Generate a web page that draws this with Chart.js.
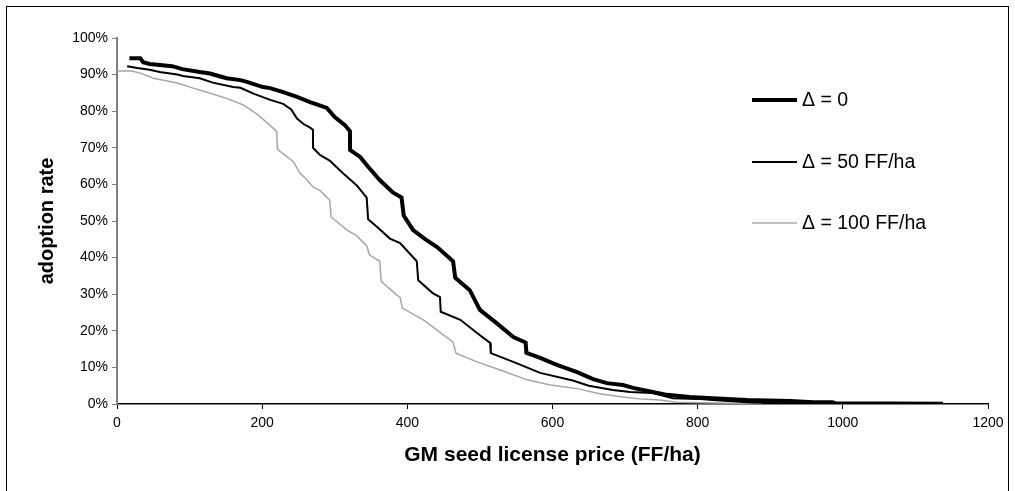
<!DOCTYPE html>
<html>
<head>
<meta charset="utf-8">
<script src="https://cdn.jsdelivr.net/npm/chart.js@4.4.1/dist/chart.umd.min.js"></script>
<style>
    html, body { margin: 0; padding: 0; background: #fff; overflow: hidden; }
    #frame { position: absolute; left: 6px; top: 6px; width: 1003px; height: 520px; border: 1px solid #000; box-sizing: border-box; }
    #sensorChart { position: absolute; left: 0; top: 0; }
</style>
</head>
<body>
<div id="frame"></div>
<canvas id="sensorChart" width="1015" height="491"></canvas>
<script>
// price (FF/ha) and adoption rate (%)
const priceD0 = [17, 32, 36, 45, 76, 90, 114, 128, 151, 170, 179, 201, 211, 229, 248, 266, 280, 289, 300, 314, 321, 321, 335, 346, 362, 380, 392, 395, 408, 425, 441, 463, 466, 486, 500, 523, 546, 563, 564, 583, 606, 634, 656, 675, 697, 711, 738, 758, 789, 821, 868, 927, 960, 986, 990, 1138];
const rateD0 = [94.5, 94.5, 93.4, 92.9, 92.3, 91.5, 90.7, 90.3, 89.0, 88.5, 88.0, 86.6, 86.3, 85.2, 83.9, 82.5, 81.5, 80.9, 78.4, 76.2, 74.5, 69.4, 67.5, 64.8, 61.2, 57.8, 56.4, 51.5, 47.5, 45.0, 42.9, 39.0, 34.5, 31.1, 25.7, 22.1, 18.3, 16.8, 14.0, 12.6, 10.7, 8.7, 6.8, 5.7, 5.2, 4.4, 3.3, 2.5, 1.9, 1.6, 1.1, 0.8, 0.5, 0.5, 0.2, 0.1];

const priceD50 = [14, 28, 45, 59, 83, 91, 114, 132, 160, 170, 188, 211, 229, 240, 248, 257, 266, 270, 270, 280, 293, 311, 330, 344, 346, 358, 376, 390, 413, 415, 435, 445, 446, 473, 496, 514, 515, 546, 583, 628, 650, 683, 707, 738, 766, 799, 821, 868, 900, 1000];
const rateD50 = [92.3, 91.8, 91.3, 90.7, 90.0, 89.6, 89.0, 87.8, 86.6, 86.4, 84.8, 83.1, 82.0, 80.5, 78.0, 76.5, 75.5, 74.9, 70.0, 68.0, 66.5, 63.1, 59.8, 56.4, 50.5, 48.4, 45.2, 44.0, 39.0, 33.8, 30.3, 29.2, 25.2, 23.0, 19.4, 16.7, 13.9, 11.5, 8.5, 6.4, 5.0, 3.8, 3.3, 3.0, 1.6, 1.4, 1.1, 0.5, 0.3, 0.1];

const priceD100 = [0, 20, 32, 50, 83, 105, 124, 151, 174, 193, 207, 220, 221, 243, 252, 262, 270, 280, 293, 295, 317, 330, 344, 348, 362, 364, 385, 390, 393, 422, 441, 463, 467, 496, 528, 565, 597, 634, 665, 697, 720, 748, 771, 820, 890];
const rateD100 = [91.0, 91.0, 90.4, 89.0, 87.7, 86.3, 85.2, 83.5, 81.7, 79.2, 76.8, 74.5, 69.6, 66.2, 63.1, 61.2, 59.3, 58.3, 55.7, 51.1, 47.5, 46.0, 43.2, 40.7, 39.0, 33.5, 29.8, 29.2, 26.2, 23.0, 20.2, 16.9, 13.9, 11.5, 9.3, 6.6, 5.2, 4.2, 2.8, 1.9, 1.4, 1.1, 0.5, 0.3, 0.1];

const seriesNames = ["Δ = 0", "Δ = 50 FF/ha", "Δ = 100 FF/ha"];
const xTicks = [0, 200, 400, 600, 800, 1000, 1200];

function toPoints(xs, ys) {
    return xs.map((x, i) => ({ x: x, y: ys[i] }));
}

const legendRows = [100, 162, 223];

const sideLegend = {
    id: "sideLegend",
    afterDraw(chart) {
        const c = chart.ctx;
        c.save();
        chart.data.datasets.forEach((ds, i) => {
            const y = legendRows[i];
            c.beginPath();
            c.strokeStyle = ds.legendColor;
            c.lineWidth = ds.legendWidth;
            c.moveTo(752, y);
            c.lineTo(797, y);
            c.stroke();
            c.fillStyle = "#000";
            c.font = "19.5px 'Liberation Sans', Arial, sans-serif";
            c.textBaseline = "middle";
            c.fillText(ds.label, 802, y + 1);
        });
        c.restore();
    }
};

const ctx = document.getElementById("sensorChart");

const adoptionChart = new Chart(ctx, {
    type: "line",
    data: {
        datasets: [
            {
                label: seriesNames[0],
                data: toPoints(priceD0, rateD0),
                borderColor: "#000",
                borderWidth: 4,
                legendColor: "#000",
                legendWidth: 4
            },
            {
                label: seriesNames[1],
                data: toPoints(priceD50, rateD50),
                borderColor: "#000",
                borderWidth: 2,
                legendColor: "#000",
                legendWidth: 2
            },
            {
                label: seriesNames[2],
                data: toPoints(priceD100, rateD100),
                borderColor: "#a6a6a6",
                borderWidth: 1.5,
                legendColor: "#c0c0c0",
                legendWidth: 2
            }
        ]
    },
    options: {
        responsive: false,
        animation: false,
        devicePixelRatio: 1,
        layout: {
            padding: { top: 38, right: 27, left: 0, bottom: 0 }
        },
        elements: {
            point: { radius: 0 },
            line: { tension: 0, borderJoinStyle: "miter" }
        },
        plugins: {
            legend: { display: false },
            tooltip: { enabled: false }
        },
        scales: {
            x: {
                type: "linear",
                min: 0,
                max: 1200,
                afterBuildTicks: (s) => { s.ticks = xTicks.map(v => ({ value: v })); },
                afterFit: (s) => { s.height = 87; },
                ticks: {
                    color: "#000",
                    padding: 6,
                    maxRotation: 0,
                    font: { family: "'Liberation Sans', Arial, sans-serif", size: 14 },
                    callback: (v) => String(v)
                },
                grid: { drawOnChartArea: false, drawTicks: true, tickLength: 5, color: "#000" },
                border: { color: "#000", width: 1.5 },
                title: {
                    display: true,
                    text: "GM seed license price (FF/ha)",
                    color: "#000",
                    padding: { top: 0, bottom: 23 },
                    font: { family: "'Liberation Sans', Arial, sans-serif", size: 21, weight: "bold" }
                }
            },
            y: {
                min: 0,
                max: 100,
                afterFit: (s) => { s.width = 117; },
                ticks: {
                    stepSize: 10,
                    color: "#000",
                    padding: 4,
                    font: { family: "'Liberation Sans', Arial, sans-serif", size: 14 },
                    callback: (v) => v + "%"
                },
                grid: { drawOnChartArea: false, drawTicks: true, tickLength: 5, color: "#808080" },
                border: { color: "#808080", width: 2 },
                title: {
                    display: true,
                    text: "adoption rate",
                    color: "#000",
                    padding: { top: 35, bottom: 0 },
                    font: { family: "'Liberation Sans', Arial, sans-serif", size: 20, weight: "bold" }
                }
            }
        }
    },
    plugins: [sideLegend]
});
</script>
</body>
</html>
